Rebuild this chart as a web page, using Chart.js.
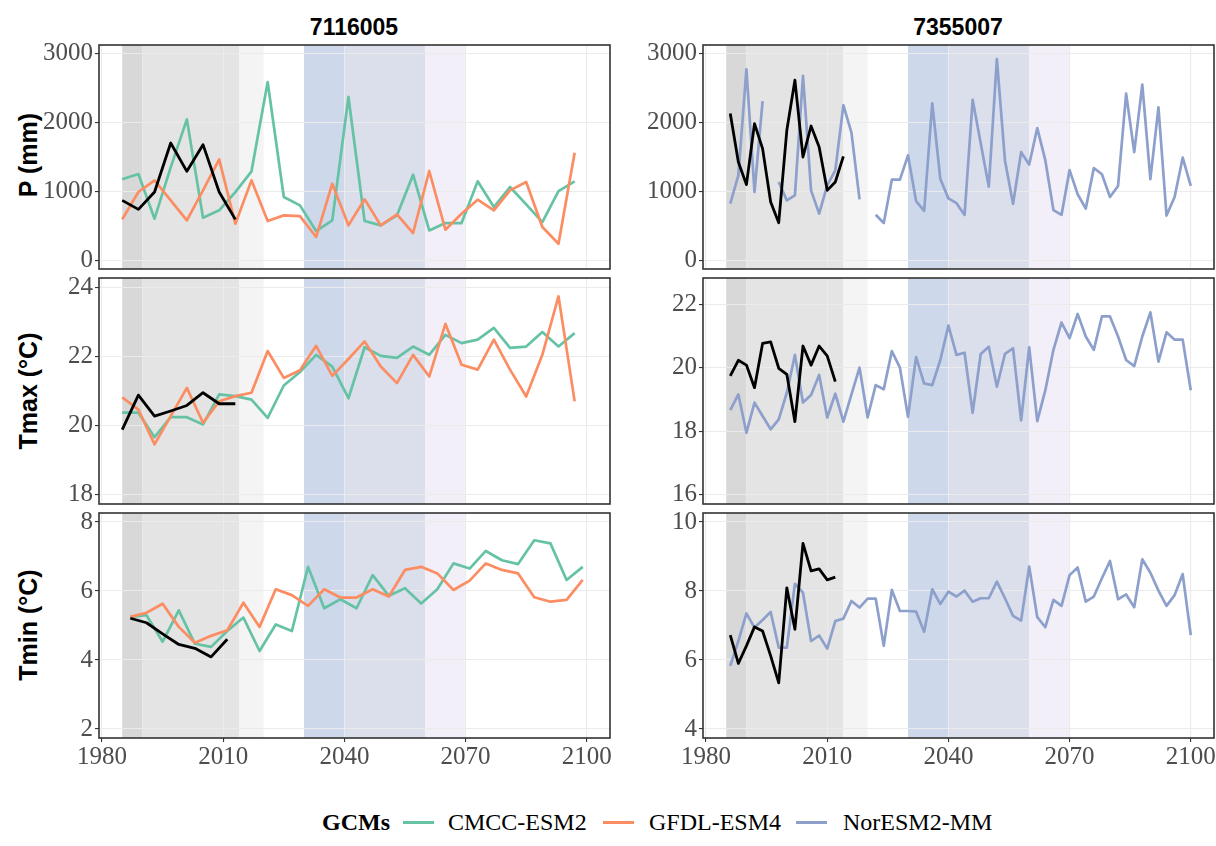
<!DOCTYPE html>
<html>
<head>
<meta charset="utf-8">
<script src="https://cdn.jsdelivr.net/npm/chart.js@4.4.0/dist/chart.umd.min.js"></script>
<style>
	body { margin: 0; background: #fff; overflow: hidden; }
	#wrap { position: relative; width: 1216px; height: 846px; }
	#wrap canvas { position: absolute; }
	.stn { position: absolute; font: bold 23px "Liberation Sans", Arial, sans-serif; color: #000; transform: translate(-50%, -50%); white-space: nowrap; }
	.ytit { position: absolute; font: bold 25px "Liberation Sans", Arial, sans-serif; color: #000; transform: translate(-50%, -50%) rotate(-90deg); white-space: nowrap; }
	.leg { position: absolute; top: 822px; transform: translateY(-50%); font: 24px "Liberation Serif", "Times New Roman", serif; color: #000; white-space: nowrap; }
	.legKey { position: absolute; top: 822px; height: 3px; margin-top: -1px; width: 31px; }
</style>
</head>
<body>
<div id="wrap">
	<div class="stn" style="left:354px; top:27px;">7116005</div>
	<div class="stn" style="left:958px; top:27px;">7355007</div>
	<div class="ytit" style="left:28px; top:155px;">P (mm)</div>
	<div class="ytit" style="left:28px; top:391px;">Tmax (°C)</div>
	<div class="ytit" style="left:28px; top:625px;">Tmin (°C)</div>

	<div class="leg" style="left:322px; font-weight:bold;">GCMs</div>
	<div class="legKey" style="left:403px; background:#66c2a5;"></div>
	<div class="leg" style="left:448px;">CMCC-ESM2</div>
	<div class="legKey" style="left:603px; background:#fc8d62;"></div>
	<div class="leg" style="left:649px;">GFDL-ESM4</div>
	<div class="legKey" style="left:796px; background:#8da0cb;"></div>
	<div class="leg" style="left:843px;">NorESM2-MM</div>
</div>

<script>
/* 年份 */
var yrsGcm4a = [1985, 1989, 1993, 1997, 2001, 2005, 2009, 2013, 2017, 2021, 2025, 2029, 2033, 2037, 2041,
	2045, 2049, 2053, 2057, 2061, 2065, 2069, 2073, 2077, 2081, 2085, 2089, 2093, 2097];
var yrsGcm4b = [1987, 1991, 1995, 1999, 2003, 2007, 2011, 2015, 2019, 2023, 2027, 2031, 2035, 2039, 2043,
	2047, 2051, 2055, 2059, 2063, 2067, 2071, 2075, 2079, 2083, 2087, 2091, 2095, 2099];
var yrsObs4a = [1985, 1989, 1993, 1997, 2001, 2005, 2009, 2013];
var yrsObs4b = [1987, 1991, 1995, 1999, 2003, 2007, 2011];
var yrsNor = [1986, 1988, 1990, 1992, 1994, 1996, 1998, 2000, 2002, 2004, 2006, 2008, 2010, 2012, 2014,
	2016, 2018, 2020, 2022, 2024, 2026, 2028, 2030, 2032, 2034, 2036, 2038, 2040, 2042, 2044, 2046, 2048,
	2050, 2052, 2054, 2056, 2058, 2060, 2062, 2064, 2066, 2068, 2070, 2072, 2074, 2076, 2078, 2080, 2082,
	2084, 2086, 2088, 2090, 2092, 2094, 2096, 2098, 2100];
var yrsObs2P = [1986, 1988, 1990, 1992, 1994, 1996, 1998, 2000, 2002, 2004, 2006, 2008, 2010, 2012, 2014];
var yrsObs2T = [1986, 1988, 1990, 1992, 1994, 1996, 1998, 2000, 2002, 2004, 2006, 2008, 2010, 2012];

/* 7116005 */
var pCmcc = [1176, 1253, 605, 1350, 2046, 619, 726, 990, 1292, 2588, 919, 798, 425, 580, 2371,
	571, 508, 653, 1243, 435, 542, 542, 1147, 774, 1065, 813, 556, 1006, 1147];
var pGfdl = [595, 992, 1161, 870, 580, 1016, 1466, 532, 1161, 571, 653, 643, 339, 1113, 508,
	886, 508, 668, 397, 1297, 445, 677, 881, 726, 1016, 1137, 484, 242, 1563];
var pObsA = [871, 740, 992, 1703, 1292, 1679, 992, 595];

var tmaxCmcc = [20.37, 20.37, 19.66, 20.24, 20.24, 20.03, 20.9, 20.85, 20.75, 20.22, 21.16, 21.55, 22.05, 21.71, 20.79,
	22.27, 22.02, 21.96, 22.29, 22.05, 22.63, 22.39, 22.49, 22.83, 22.25, 22.29, 22.71, 22.29, 22.68];
var tmaxGfdl = [20.82, 20.46, 19.45, 20.27, 21.09, 20.08, 20.7, 20.85, 20.95, 22.16, 21.38, 21.6, 22.31, 21.44, 21.93,
	22.44, 21.71, 21.23, 22.05, 21.42, 22.95, 21.76, 21.62, 22.49, 21.62, 20.84, 22.05, 23.75, 20.7];
var tmaxObsA = [19.88, 20.88, 20.27, 20.42, 20.58, 20.95, 20.63, 20.63];

var tminCmcc = [5.25, 5.3, 4.53, 5.44, 4.47, 4.38, 4.84, 5.23, 4.26, 5.03, 4.84, 6.7, 5.5, 5.76, 5.5,
	6.46, 5.86, 6.08, 5.64, 6.05, 6.8, 6.65, 7.16, 6.89, 6.78, 7.47, 7.38, 6.32, 6.7];
var tminGfdl = [5.25, 5.37, 5.63, 4.96, 4.5, 4.7, 4.86, 5.66, 4.96, 6.05, 5.88, 5.57, 6.05, 5.81, 5.81,
	6.05, 5.84, 6.61, 6.7, 6.51, 6.03, 6.3, 6.8, 6.61, 6.51, 5.82, 5.69, 5.74, 6.32];
var tminObsA = [5.21, 5.08, 4.76, 4.45, 4.34, 4.09, 4.6];

/* 7355007 */
var pNor = [823, 1234, 2773, 992, 2309, null, 1137, 871, 944, 2677, 1016, 678, 1089, 1307, 2251,
	1854, 886, null, 663, 542, 1171, 1171, 1524, 860, 720, 2280, 1180, 900, 830, 660, 2330, 1700,
	1070, 2920, 1450, 820, 1570, 1390, 1920, 1450, 730, 660, 1310, 960, 750, 1340, 1250, 920, 1080,
	2420, 1570, 2550, 1180, 2220, 650, 920, 1490, 1080];
var pObsB = [2130, 1428, 1099, 1984, 1621, 847, 547, 1888, 2614, 1500, 1950, 1646, 1016, 1137, 1510];

var tmaxNor = [18.66, 19.16, 17.95, 18.9, 18.48, 18.06, 18.37, 19.21, 20.4, 18.9, 19.14, 19.77, 18.43, 19.18, 18.3,
	19.16, 20.0, 18.43, 19.45, 19.32, 20.52, 20.0, 18.45, 20.33, 19.5, 19.45, 20.24, 21.32, 20.4, 20.47, 18.58, 20.43,
	20.66, 19.4, 20.43, 20.61, 18.34, 20.64, 18.32, 19.29, 20.56, 21.42, 20.93, 21.69, 20.98, 20.56, 21.61, 21.61, 20.98,
	20.24, 20.05, 20.98, 21.74, 20.19, 21.11, 20.88, 20.88, 19.29];
var tmaxObsB = [19.74, 20.23, 20.08, 19.37, 20.76, 20.81, 19.98, 19.79, 18.3, 20.68, 20.08, 20.68, 20.37, 19.56];

var tminNor = [5.83, 6.55, 7.35, 6.94, 7.16, 7.39, 6.36, 6.36, 8.21, 7.95, 6.55, 6.71, 6.33, 7.13, 7.2,
	7.71, 7.52, 7.78, 7.78, 6.41, 8.03, 7.42, 7.42, 7.4, 6.82, 8.05, 7.62, 7.98, 7.84, 8.01, 7.69, 7.79,
	7.79, 8.27, 7.79, 7.28, 7.14, 8.71, 7.24, 6.95, 7.74, 7.57, 8.46, 8.68, 7.69, 7.84, 8.37, 8.87, 7.76,
	7.9, 7.53, 8.92, 8.53, 8.01, 7.57, 7.88, 8.49, 6.72];
var tminObsB = [6.72, 5.9, 6.41, 6.96, 6.84, 6.12, 5.34, 8.09, 6.89, 9.38, 8.58, 8.64, 8.32, 8.4];

/* 刻度 */
var xTicks = [1980, 2010, 2040, 2070, 2100];
var pTicks = [0, 1000, 2000, 3000];
var tmaxTicksA = [18, 20, 22, 24];
var tmaxTicksB = [16, 18, 20, 22];
var tminTicksA = [2, 4, 6, 8];
var tminTicksB = [4, 6, 8, 10];

/* 時段背景 */
var bandFrom = [1985, 1990, 2014, 2030, 2040, 2060];
var bandTo = [1990, 2014, 2020, 2040, 2060, 2070];
var bandColor = ['#d8d8d8', '#e4e4e4', '#f4f4f4', '#cdd8ea', '#dbdeeb', '#f2eff8'];

var colCmcc = '#66c2a5';
var colGfdl = '#fc8d62';
var colNor = '#8da0cb';

var plotLeft = [99, 703];
var plotTop = [45, 278, 513];
var plotH = [224, 226, 225];
var plotW = 511;

function pts(xs, ys) {
	var out = [];
	for (var i = 0; i < xs.length; i++) {
		out.push({ x: xs[i], y: ys[i] });
	}
	return out;
}

function line(xs, ys, color, width) {
	return {
		data: pts(xs, ys),
		borderColor: color,
		borderWidth: width,
		pointRadius: 0,
		tension: 0,
		borderJoinStyle: 'round',
		spanGaps: false,
		fill: false
	};
}

var bandPlugin = {
	id: 'bands',
	beforeDraw: function(chart) {
		var ctx = chart.ctx, a = chart.chartArea, x = chart.scales.x;
		ctx.save();
		for (var i = 0; i < bandFrom.length; i++) {
			var x0 = x.getPixelForValue(bandFrom[i]);
			var x1 = x.getPixelForValue(bandTo[i]);
			ctx.fillStyle = bandColor[i];
			ctx.fillRect(x0, a.top, x1 - x0, a.bottom - a.top);
		}
		ctx.restore();
	},
	afterDraw: function(chart) {
		var ctx = chart.ctx, a = chart.chartArea;
		ctx.save();
		ctx.strokeStyle = '#333333';
		ctx.lineWidth = 1.6;
		ctx.strokeRect(a.left, a.top, a.right - a.left, a.bottom - a.top);
		ctx.restore();
	}
};

var padL = 80, padR = 12, padT = 20, padB = 20, xAxisH = 34;

function makePanel(col, row, yMin, yMax, yTicks, datasets) {
	var bottom = (row === 2);
	var cv = document.createElement('canvas');
	var w = padL + plotW + padR;
	var h = padT + plotH[row] + (bottom ? xAxisH : padB);
	cv.width = w;
	cv.height = h;
	cv.style.left = (plotLeft[col] - padL) + 'px';
	cv.style.top = (plotTop[row] - padT) + 'px';
	cv.style.width = w + 'px';
	cv.style.height = h + 'px';
	document.getElementById('wrap').appendChild(cv);

	new Chart(cv, {
		type: 'line',
		data: { datasets: datasets },
		plugins: [bandPlugin],
		options: {
			responsive: false,
			animation: false,
			events: [],
			layout: { padding: { left: 0, right: padR, top: padT, bottom: bottom ? 0 : padB } },
			plugins: { legend: { display: false }, tooltip: { enabled: false } },
			scales: {
				x: {
					type: 'linear',
					min: 1979.25,
					max: 2105.75,
					afterBuildTicks: function(s) { s.ticks = xTicks.map(function(v) { return { value: v }; }); },
					afterFit: function(s) { s.height = bottom ? xAxisH : 0; },
					border: { display: false },
					grid: { color: '#ebebeb', lineWidth: 1.1, drawTicks: bottom, tickLength: 4, tickColor: '#333333', tickWidth: 1.1 },
					ticks: {
						display: bottom,
						padding: 0,
						maxRotation: 0,
						color: '#4d4d4d',
						font: { family: 'Liberation Serif', size: 25 },
						callback: function(v) { return String(v); }
					}
				},
				y: {
					min: yMin,
					max: yMax,
					afterBuildTicks: function(s) { s.ticks = yTicks.map(function(v) { return { value: v }; }); },
					afterFit: function(s) { s.width = padL; },
					border: { display: false },
					grid: { color: '#ebebeb', lineWidth: 1.1, tickLength: 4, tickColor: '#333333', tickWidth: 1.1 },
					ticks: {
						padding: 2,
						color: '#4d4d4d',
						font: { family: 'Liberation Serif', size: 25 },
						callback: function(v) { return String(v); }
					}
				}
			}
		}
	});
}

// 左欄：7116005（CMCC-ESM2、GFDL-ESM4、觀測）
makePanel(0, 0, -125, 3125, pTicks, [
	line(yrsObs4a, pObsA, '#000000', 2.8),
	line(yrsGcm4a, pGfdl, colGfdl, 2.7),
	line(yrsGcm4a, pCmcc, colCmcc, 2.7)
]);
makePanel(0, 1, 17.72, 24.28, tmaxTicksA, [
	line(yrsObs4a, tmaxObsA, '#000000', 2.8),
	line(yrsGcm4a, tmaxGfdl, colGfdl, 2.7),
	line(yrsGcm4a, tmaxCmcc, colCmcc, 2.7)
]);
makePanel(0, 2, 1.74, 8.26, tminTicksA, [
	line(yrsObs4b, tminObsA, '#000000', 2.8),
	line(yrsGcm4b, tminGfdl, colGfdl, 2.7),
	line(yrsGcm4b, tminCmcc, colCmcc, 2.7)
]);

// 右欄：7355007（NorESM2-MM、觀測）
makePanel(1, 0, -125, 3125, pTicks, [
	line(yrsObs2P, pObsB, '#000000', 2.8),
	line(yrsNor, pNor, colNor, 2.7)
]);
makePanel(1, 1, 15.71, 22.82, tmaxTicksB, [
	line(yrsObs2T, tmaxObsB, '#000000', 2.8),
	line(yrsNor, tmaxNor, colNor, 2.7)
]);
makePanel(1, 2, 3.74, 10.26, tminTicksB, [
	line(yrsObs2T, tminObsB, '#000000', 2.8),
	line(yrsNor, tminNor, colNor, 2.7)
]);
</script>
</body>
</html>
